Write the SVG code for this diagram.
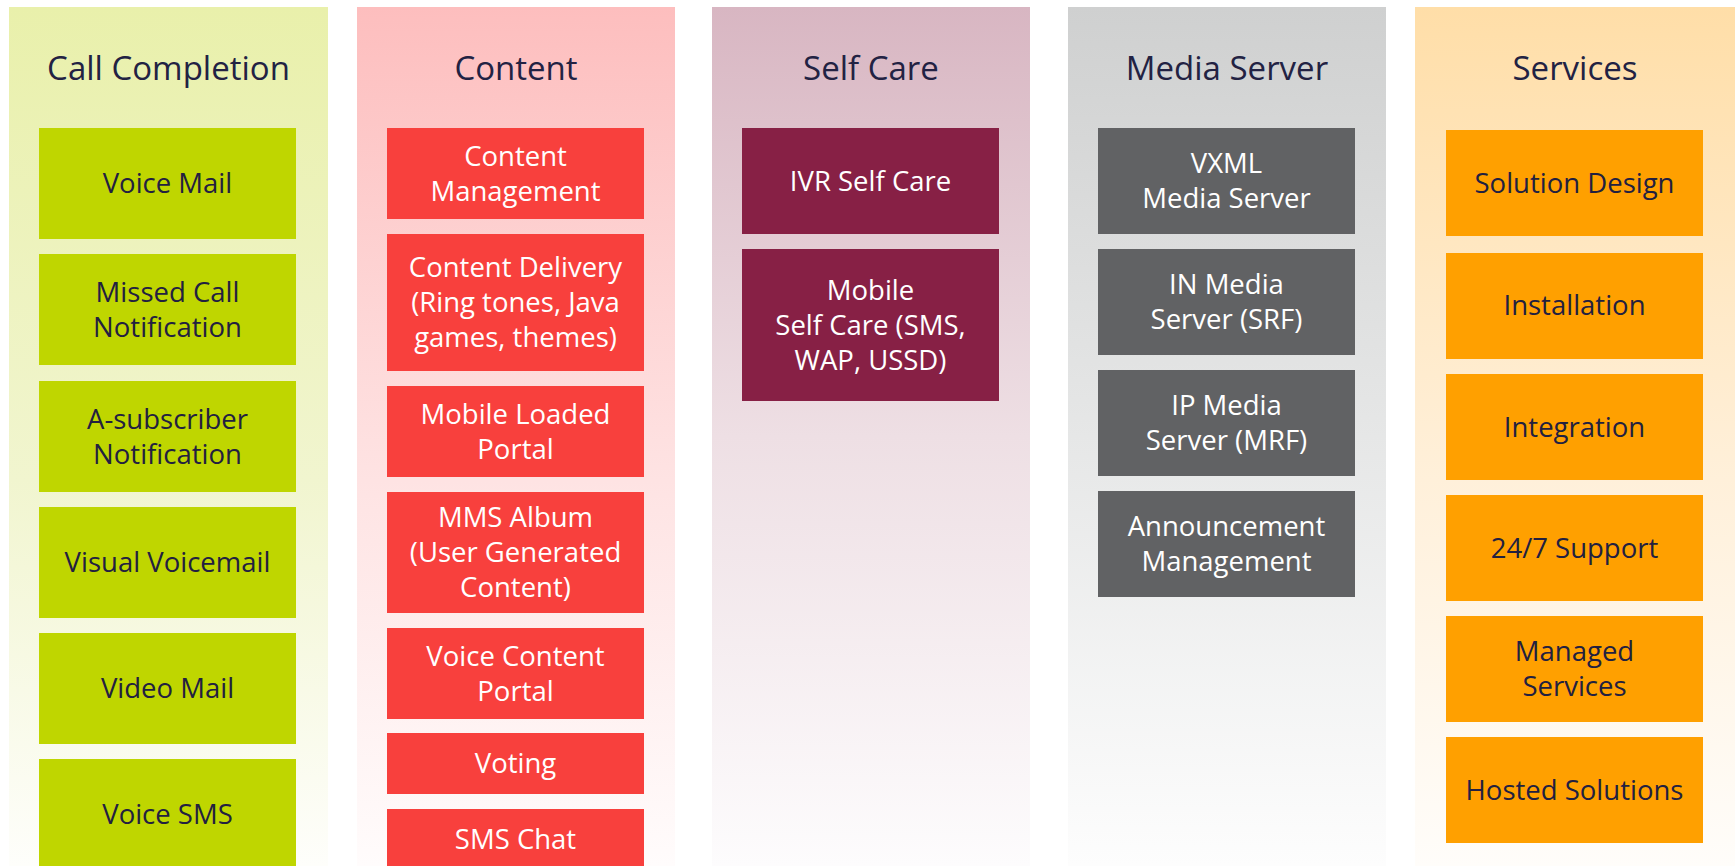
<svg xmlns="http://www.w3.org/2000/svg" width="1735" height="866" viewBox="0 0 1735 866">
<defs>
<linearGradient id="gCall" x1="0" y1="0" x2="0" y2="1"><stop offset="0" stop-color="#E9F0AB"/><stop offset="0.55" stop-color="#F1F5CF"/><stop offset="1" stop-color="#FEFEFB"/></linearGradient>
<linearGradient id="gContent" x1="0" y1="0" x2="0" y2="1"><stop offset="0" stop-color="#FDBEBE"/><stop offset="0.55" stop-color="#FEE3E3"/><stop offset="1" stop-color="#FFFCFC"/></linearGradient>
<linearGradient id="gSelf" x1="0" y1="0" x2="0" y2="1"><stop offset="0" stop-color="#D8B6C2"/><stop offset="0.5" stop-color="#EEDFE4"/><stop offset="1" stop-color="#FDFCFD"/></linearGradient>
<linearGradient id="gMedia" x1="0" y1="0" x2="0" y2="1"><stop offset="0" stop-color="#CFD0D0"/><stop offset="0.5" stop-color="#E6E7E7"/><stop offset="1" stop-color="#FDFDFD"/></linearGradient>
<linearGradient id="gServ" x1="0" y1="0" x2="0" y2="1"><stop offset="0" stop-color="#FFDEA8"/><stop offset="0.55" stop-color="#FFF0DA"/><stop offset="1" stop-color="#FFFDFA"/></linearGradient>
</defs>
<style>
text{font-family:"Open Sans","Noto Sans","Liberation Sans",sans-serif;text-anchor:middle}
.title{font-size:33px;fill:#222243}
.t{font-size:27.5px}
.dk{fill:#222040}
.wt{fill:#FFFFFF}
.green{fill:#BFD600}
.red{fill:#F8403D}
.maroon{fill:#872045}
.grey{fill:#616264}
.orange{fill:#FFA000}
</style>
<rect width="1735" height="866" fill="#FFFFFF"/>

<g id="col-call-completion">
<rect x="9" y="7" width="319" height="859" fill="url(#gCall)"/>
<text class="title" x="168.5" y="80">Call Completion</text>
</g>
<g id="col-content">
<rect x="357" y="7" width="318" height="859" fill="url(#gContent)"/>
<text class="title" x="516" y="80">Content</text>
</g>
<g id="col-self-care">
<rect x="712" y="7" width="318" height="859" fill="url(#gSelf)"/>
<text class="title" x="871" y="80">Self Care</text>
</g>
<g id="col-media-server">
<rect x="1068" y="7" width="318" height="859" fill="url(#gMedia)"/>
<text class="title" x="1227" y="80">Media Server</text>
</g>
<g id="col-services">
<rect x="1415" y="7" width="320" height="859" fill="url(#gServ)"/>
<text class="title" x="1575" y="80">Services</text>
</g>

<g id="voice-mail"><rect class="green" x="39" y="128" width="257" height="111"/><text class="t dk" x="167.5" y="193">Voice Mail</text></g>
<g id="missed-call"><rect class="green" x="39" y="254" width="257" height="111"/><text class="t dk" x="167.5" y="301.5">Missed Call</text><text class="t dk" x="167.5" y="336.5">Notification</text></g>
<g id="a-subscriber"><rect class="green" x="39" y="381" width="257" height="111"/><text class="t dk" x="167.5" y="428.5">A-subscriber</text><text class="t dk" x="167.5" y="463.5">Notification</text></g>
<g id="visual-voicemail"><rect class="green" x="39" y="507" width="257" height="111"/><text class="t dk" x="167.5" y="572">Visual Voicemail</text></g>
<g id="video-mail"><rect class="green" x="39" y="633" width="257" height="111"/><text class="t dk" x="167.5" y="698">Video Mail</text></g>
<g id="voice-sms"><rect class="green" x="39" y="759" width="257" height="111"/><text class="t dk" x="167.5" y="824">Voice SMS</text></g>

<g id="content-management"><rect class="red" x="387" y="128" width="257" height="91"/><text class="t wt" x="515.5" y="165.5">Content</text><text class="t wt" x="515.5" y="200.5">Management</text></g>
<g id="content-delivery"><rect class="red" x="387" y="234" width="257" height="137"/><text class="t wt" x="515.5" y="277">Content Delivery</text><text class="t wt" x="515.5" y="312">(Ring tones, Java</text><text class="t wt" x="515.5" y="347">games, themes)</text></g>
<g id="mobile-loaded-portal"><rect class="red" x="387" y="386" width="257" height="91"/><text class="t wt" x="515.5" y="423.5">Mobile Loaded</text><text class="t wt" x="515.5" y="458.5">Portal</text></g>
<g id="mms-album"><rect class="red" x="387" y="492" width="257" height="121"/><text class="t wt" x="515.5" y="527">MMS Album</text><text class="t wt" x="515.5" y="562">(User Generated</text><text class="t wt" x="515.5" y="597">Content)</text></g>
<g id="voice-content-portal"><rect class="red" x="387" y="628" width="257" height="91"/><text class="t wt" x="515.5" y="665.5">Voice Content</text><text class="t wt" x="515.5" y="700.5">Portal</text></g>
<g id="voting"><rect class="red" x="387" y="733" width="257" height="61"/><text class="t wt" x="515.5" y="773">Voting</text></g>
<g id="sms-chat"><rect class="red" x="387" y="809" width="257" height="61"/><text class="t wt" x="515.5" y="849">SMS Chat</text></g>

<g id="ivr-self-care"><rect class="maroon" x="742" y="128" width="257" height="106"/><text class="t wt" x="870.5" y="190.5">IVR Self Care</text></g>
<g id="mobile-self-care"><rect class="maroon" x="742" y="249" width="257" height="152"/><text class="t wt" x="870.5" y="299.5">Mobile</text><text class="t wt" x="870.5" y="334.5">Self Care (SMS,</text><text class="t wt" x="870.5" y="369.5">WAP, USSD)</text></g>

<g id="vxml-media-server"><rect class="grey" x="1098" y="128" width="257" height="106"/><text class="t wt" x="1226.5" y="173">VXML</text><text class="t wt" x="1226.5" y="208">Media Server</text></g>
<g id="in-media-server"><rect class="grey" x="1098" y="249" width="257" height="106"/><text class="t wt" x="1226.5" y="294">IN Media</text><text class="t wt" x="1226.5" y="329">Server (SRF)</text></g>
<g id="ip-media-server"><rect class="grey" x="1098" y="370" width="257" height="106"/><text class="t wt" x="1226.5" y="415">IP Media</text><text class="t wt" x="1226.5" y="450">Server (MRF)</text></g>
<g id="announcement-management"><rect class="grey" x="1098" y="491" width="257" height="106"/><text class="t wt" x="1226.5" y="536">Announcement</text><text class="t wt" x="1226.5" y="571">Management</text></g>

<g id="solution-design"><rect class="orange" x="1446" y="130" width="257" height="106"/><text class="t dk" x="1574.5" y="192.5">Solution Design</text></g>
<g id="installation"><rect class="orange" x="1446" y="253" width="257" height="106"/><text class="t dk" x="1574.5" y="315">Installation</text></g>
<g id="integration"><rect class="orange" x="1446" y="374" width="257" height="106"/><text class="t dk" x="1574.5" y="436.5">Integration</text></g>
<g id="support"><rect class="orange" x="1446" y="495" width="257" height="106"/><text class="t dk" x="1574.5" y="557.5">24/7 Support</text></g>
<g id="managed-services"><rect class="orange" x="1446" y="616" width="257" height="106"/><text class="t dk" x="1574.5" y="661">Managed</text><text class="t dk" x="1574.5" y="696">Services</text></g>
<g id="hosted-solutions"><rect class="orange" x="1446" y="737" width="257" height="106"/><text class="t dk" x="1574.5" y="799.5">Hosted Solutions</text></g>

<g id="connectors"/>
</svg>
